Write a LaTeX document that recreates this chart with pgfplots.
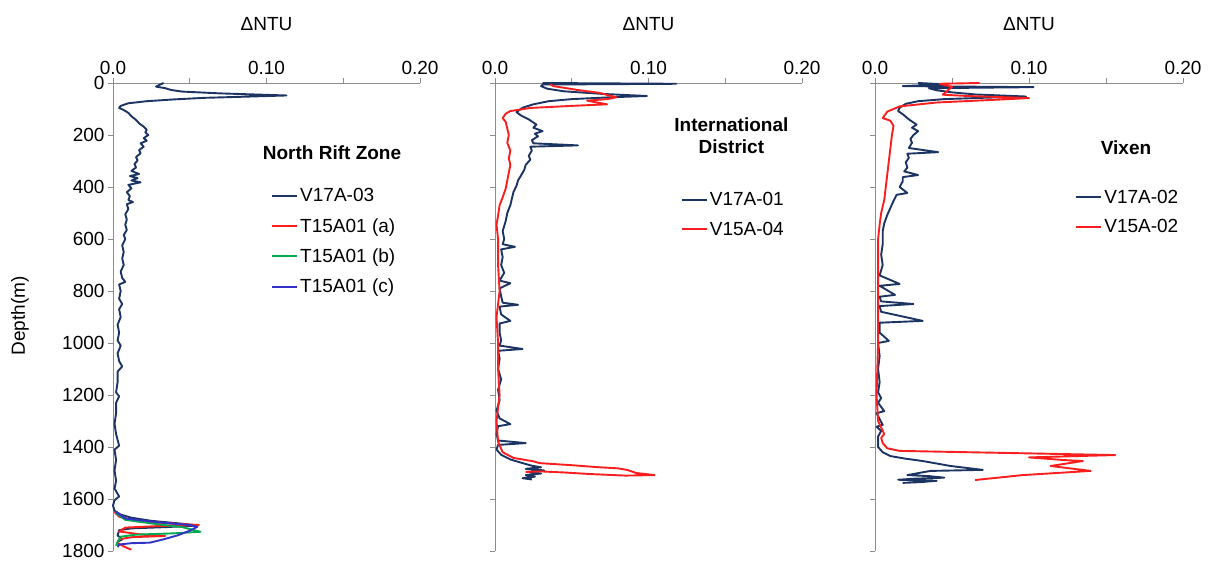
\documentclass[border=0pt]{standalone}
\usepackage{pgfplots}
\pgfplotsset{compat=1.18}
\usepackage{fontspec}
\setmainfont{Liberation Sans}
\definecolor{navy}{RGB}{28,52,98}
\definecolor{cred}{RGB}{250,30,30}
\definecolor{cgreen}{RGB}{0,170,80}
\definecolor{cblue}{RGB}{50,50,200}
\definecolor{axgray}{RGB}{140,140,140}
\newcommand{\fs}{\fontsize{19}{22}\selectfont}

\pgfplotsset{
  prof/.style={
    scale only axis, width=307pt, height=468pt,
    xmin=0, xmax=0.2, ymin=0, ymax=1800, y dir=reverse,
    axis x line*=top, axis y line*=left,
    axis line style={axgray, line width=0.9pt},
    tick style={axgray, line width=0.9pt},
    major tick length=5pt, tick align=outside,
    xtick={0,0.05,0.1,0.15,0.2}, xticklabels={0.0,,0.10,,0.20},
    ytick={0,200,...,1800},
    tick label style={font=\fs},
    /pgf/number format/1000 sep={},
    /pgf/number format/assume math mode=true,
    clip=false,
    legend cell align=left,
    legend style={draw=none, fill=none, font=\fs, anchor=north west,
                  row sep=11pt, nodes={inner sep=2pt}},
    legend image code/.code={\draw[##1, line width=2pt] (0pt,0pt) -- (25pt,0pt);},
    every axis plot/.append style={line width=1.9pt, line join=round},
  }
}

\begin{document}
\begin{tikzpicture}
\useasboundingbox (0pt,-2pt) rectangle (1208pt,559pt);

% ---------- North Rift Zone ----------
\begin{axis}[prof, at={(113pt,476pt)}, anchor=north west,
  legend style={at={(axis cs:0.101,390)}}]
\addplot[navy] coordinates {
(0.033,0) (0.030,8) (0.028,14) (0.034,20) (0.038,27) (0.045,33) (0.070,40) (0.113,48)
(0.090,52) (0.060,57) (0.040,63) (0.022,70) (0.010,78) (0.005,88) (0.004,96) (0.007,104)
(0.010,115) (0.012,128) (0.015,142) (0.017,155) (0.020,168) (0.022,180) (0.021,190) (0.023,200)
(0.020,212) (0.022,222) (0.018,232) (0.020,245) (0.017,258) (0.018,270) (0.015,285) (0.016,298)
(0.014,312) (0.015,325) (0.012,338) (0.017,350) (0.011,358) (0.016,366) (0.012,375) (0.018,382)
(0.010,392) (0.012,405) (0.009,420) (0.011,435) (0.010,450) (0.013,458) (0.009,466) (0.010,485)
(0.008,505) (0.009,525) (0.008,545) (0.009,565) (0.007,585) (0.008,600) (0.006,625) (0.007,650)
(0.006,675) (0.007,700) (0.005,725) (0.006,750) (0.008,765) (0.004,775) (0.005,800) (0.004,830)
(0.006,850) (0.004,870) (0.005,900) (0.003,930) (0.004,960) (0.003,990) (0.005,1010) (0.003,1040)
(0.004,1070) (0.006,1090) (0.003,1110) (0.003,1150) (0.002,1190) (0.004,1205) (0.002,1230) (0.002,1270)
(0.001,1310) (0.002,1350) (0.004,1395) (0.001,1410) (0.002,1450) (0.001,1490) (0.002,1530) (0.001,1560)
(0.004,1590) (0.001,1605) (0.000,1625) (0.001,1645) (0.005,1660) (0.012,1672) (0.025,1684) (0.045,1695)
(0.055,1702) (0.035,1708) (0.012,1713) (0.004,1720) (0.003,1740) (0.006,1755) (0.003,1765) (0.004,1778)};
\addlegendentry{V17A-03}
\addplot[cred] coordinates {
(0.001,1650) (0.004,1668) (0.015,1685) (0.040,1695) (0.056,1700) (0.030,1704) (0.008,1710) (0.004,1725)
(0.018,1736) (0.034,1742) (0.012,1747) (0.004,1755) (0.003,1770) (0.008,1785) (0.012,1795)};
\addlegendentry{T15A01 (a)}
\addplot[cgreen] coordinates {
(0.002,1655) (0.008,1680) (0.030,1698) (0.045,1708) (0.057,1726) (0.040,1732) (0.015,1737) (0.005,1745)
(0.003,1765) (0.002,1780)};
\addlegendentry{T15A01 (b)}
\addplot[cblue] coordinates {
(0.002,1650) (0.008,1675) (0.030,1690) (0.050,1700) (0.055,1707) (0.050,1722) (0.042,1740) (0.033,1755)
(0.024,1768) (0.012,1770) (0.004,1775) (0.003,1785)};
\addlegendentry{T15A01 (c)}
\node[font=\fs\bfseries] at (axis cs:0.1427,269) {North Rift Zone};
\node[font=\fs, anchor=base, inner sep=0pt] at (axis cs:0.1,0) [yshift=52pt] {ΔNTU};
\end{axis}

% ---------- International District ----------
\begin{axis}[prof, at={(495pt,476pt)}, anchor=north west, yticklabels={},
  legend style={at={(axis cs:0.119,404)}}]
\addplot[navy] coordinates {
(0.031,0) (0.118,3) (0.031,6) (0.030,12) (0.034,22) (0.045,32) (0.070,42) (0.099,50)
(0.075,55) (0.050,62) (0.035,70) (0.025,82) (0.018,95) (0.014,112) (0.017,125) (0.022,140)
(0.027,160) (0.025,172) (0.031,185) (0.026,195) (0.028,205) (0.024,220) (0.025,232) (0.054,240)
(0.023,245) (0.024,260) (0.022,280) (0.023,295) (0.020,315) (0.019,335) (0.017,355) (0.015,375)
(0.014,395) (0.012,420) (0.011,445) (0.010,470) (0.008,500) (0.007,530) (0.005,570) (0.006,600)
(0.005,620) (0.013,630) (0.004,640) (0.005,670) (0.004,700) (0.006,730) (0.003,760) (0.010,770)
(0.003,790) (0.004,820) (0.005,845) (0.015,853) (0.003,860) (0.004,890) (0.010,915) (0.003,925)
(0.003,960) (0.004,990) (0.003,1010) (0.018,1023) (0.002,1030) (0.003,1060) (0.002,1100) (0.004,1140)
(0.002,1180) (0.003,1220) (0.001,1260) (0.003,1290) (0.010,1312) (0.002,1320) (0.001,1350) (0.002,1375)
(0.020,1385) (0.002,1392) (0.001,1410) (0.004,1430) (0.010,1448) (0.018,1462) (0.024,1472) (0.030,1478)
(0.020,1484) (0.032,1490) (0.022,1496) (0.030,1502) (0.020,1508) (0.026,1514) (0.018,1520) (0.024,1525)};
\addlegendentry{V17A-01}
\addplot[cred] coordinates {
(0.036,5) (0.038,12) (0.055,28) (0.068,38) (0.079,55) (0.073,62) (0.060,68) (0.073,82)
(0.050,88) (0.023,96) (0.010,108) (0.007,118) (0.005,135) (0.007,150) (0.008,175) (0.009,200)
(0.008,230) (0.010,260) (0.009,290) (0.010,315) (0.009,345) (0.008,375) (0.007,405) (0.005,440)
(0.003,470) (0.002,510) (0.001,545) (0.002,600) (0.002,700) (0.003,800) (0.001,900) (0.002,1000)
(0.002,1100) (0.003,1200) (0.001,1300) (0.002,1380) (0.005,1420) (0.012,1442) (0.025,1455) (0.029,1462)
(0.050,1470) (0.068,1478) (0.080,1482) (0.086,1488) (0.092,1500) (0.104,1508) (0.085,1510) (0.062,1504)
(0.045,1498) (0.030,1494) (0.020,1496)};
\addlegendentry{V15A-04}
\node[font=\fs\bfseries, align=center] at (axis cs:0.154,204) {International\\District};
\node[font=\fs, anchor=base, inner sep=0pt] at (axis cs:0.1,0) [yshift=52pt] {ΔNTU};
\end{axis}

% ---------- Vixen ----------
\begin{axis}[prof, width=308pt, at={(875pt,476pt)}, anchor=north west, yticklabels={},
  legend style={at={(axis cs:0.128,395)}}]
\addplot[navy] coordinates {
(0.028,0) (0.045,5) (0.018,12) (0.103,16) (0.035,20) (0.040,28) (0.050,36) (0.065,44)
(0.098,52) (0.070,57) (0.045,62) (0.028,70) (0.020,80) (0.016,95) (0.015,108) (0.018,120)
(0.022,140) (0.027,160) (0.024,172) (0.028,185) (0.025,200) (0.023,215) (0.024,230) (0.022,250)
(0.041,266) (0.021,272) (0.022,288) (0.020,305) (0.021,325) (0.019,340) (0.028,354) (0.018,362)
(0.018,378) (0.016,400) (0.021,423) (0.014,430) (0.012,454) (0.010,480) (0.008,507) (0.006,540)
(0.005,570) (0.005,620) (0.004,660) (0.005,700) (0.003,740) (0.016,773) (0.003,780) (0.013,815)
(0.003,822) (0.004,840) (0.025,850) (0.003,858) (0.004,880) (0.031,915) (0.003,922) (0.003,960)
(0.009,992) (0.002,1000) (0.003,1050) (0.002,1100) (0.003,1150) (0.002,1190) (0.004,1212) (0.002,1230)
(0.006,1262) (0.001,1270) (0.005,1315) (0.001,1322) (0.004,1338) (0.002,1360) (0.002,1400) (0.005,1420)
(0.010,1435) (0.020,1445) (0.031,1454) (0.049,1473) (0.070,1488) (0.036,1492) (0.021,1508) (0.035,1512)
(0.045,1518) (0.025,1522) (0.015,1526) (0.040,1530) (0.030,1535) (0.018,1538)};
\addlegendentry{V17A-02}
\addplot[cred] coordinates {
(0.068,0) (0.042,3) (0.050,15) (0.044,45) (0.060,50) (0.100,58) (0.080,64) (0.040,75)
(0.016,90) (0.008,110) (0.005,135) (0.010,145) (0.012,165) (0.011,200) (0.010,250) (0.009,300)
(0.008,350) (0.007,400) (0.006,450) (0.004,500) (0.003,545) (0.002,600) (0.002,800) (0.002,1000)
(0.001,1200) (0.002,1300) (0.006,1350) (0.004,1365) (0.005,1385) (0.008,1405) (0.016,1415) (0.156,1431)
(0.100,1440) (0.122,1450) (0.135,1454) (0.114,1473) (0.140,1492) (0.096,1508) (0.065,1527)};
\addlegendentry{V15A-02}
\node[font=\fs\bfseries] at (axis cs:0.163,250) {Vixen};
\node[font=\fs, anchor=base, inner sep=0pt] at (axis cs:0.1,0) [yshift=52pt] {ΔNTU};
\end{axis}

\node[font=\fs, rotate=90] at (20pt,243pt) {Depth(m)};
\end{tikzpicture}
\end{document}
